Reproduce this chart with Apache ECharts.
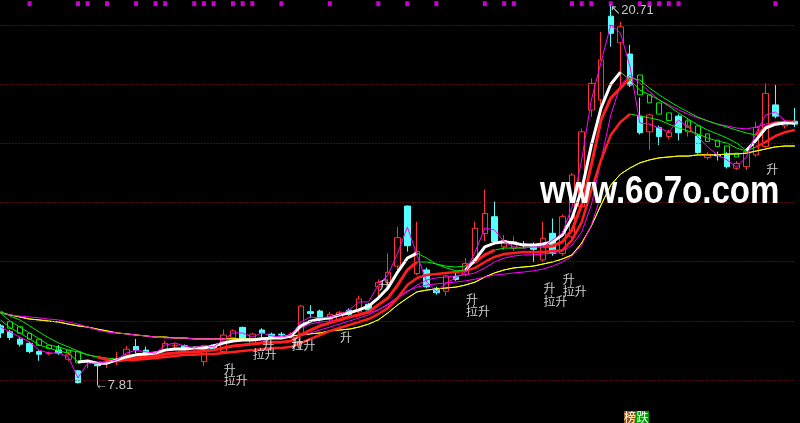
<!DOCTYPE html>
<html><head><meta charset="utf-8">
<script src="https://cdn.jsdelivr.net/npm/echarts@6/dist/echarts.min.js"></script>
<style>html,body{margin:0;padding:0;background:#000;}#c{width:800px;height:423px;}</style>
</head><body><div id="c"></div>
<script>
// ---- data ----
const categories = Array.from({length: 83}, (_, i) => 'D' + (i + 1));
// [open, close, low, high]
const candles = [
[9.83,9.59,9.42,9.89],[9.63,9.44,9.35,9.69],[9.38,9.21,9.13,9.44],[9.24,8.96,8.90,9.30],[8.96,8.87,8.65,9.00],
[8.89,8.91,8.84,8.96],[9.01,8.91,8.85,9.18],[8.70,8.85,8.64,8.96],[8.31,7.91,7.88,8.33],[8.62,8.64,8.40,8.66],
[8.52,8.48,7.81,8.56],[8.56,8.60,8.40,8.70],[8.62,8.70,8.51,8.96],[8.85,9.04,8.79,9.15],[9.13,9.01,8.90,9.39],
[9.01,8.85,8.79,9.13],[8.77,8.92,8.74,8.96],[9.01,9.24,8.96,9.33],[9.15,9.18,9.07,9.27],[9.16,9.09,9.05,9.20],
[8.95,8.97,8.92,9.00],[8.62,9.13,8.48,9.15],[9.18,9.04,9.00,9.20],[8.96,9.52,8.93,9.71],[9.43,9.66,9.40,9.71],
[9.78,9.41,9.38,9.80],[9.21,9.55,9.20,9.60],[9.69,9.58,9.45,9.75],[9.55,9.47,9.40,9.60],[9.55,9.52,9.41,9.62],
[9.45,9.55,9.40,9.62],[9.58,10.50,9.55,10.53],[10.31,10.25,10.10,10.53],[10.33,10.03,9.98,10.38],[10.05,10.22,9.97,10.31],
[10.02,10.29,9.98,10.33],[10.36,10.22,10.15,10.42],[10.30,10.74,10.26,10.85],[10.56,10.37,10.30,10.60],[11.15,11.30,10.75,11.40],
[11.30,11.64,11.20,12.28],[11.85,12.81,11.70,13.18],[13.88,12.54,12.34,13.90],[11.60,12.34,11.55,13.35],[11.72,11.15,11.10,11.80],
[11.10,10.95,10.88,11.15],[11.00,11.52,10.85,11.55],[11.50,11.40,11.35,11.65],[11.58,11.94,11.50,12.12],[12.10,13.13,12.00,13.35],
[12.95,13.63,12.70,14.44],[13.52,12.68,12.60,14.03],[12.50,12.72,12.40,12.90],[12.45,12.68,12.35,12.85],[12.60,12.55,12.45,12.70],
[12.58,12.42,12.00,12.65],[12.06,12.79,12.00,13.35],[12.96,12.28,12.20,13.46],[12.28,13.52,12.20,13.60],[12.84,14.93,12.80,15.00],
[13.86,16.39,13.80,16.50],[17.13,18.03,16.90,18.20],[17.47,18.82,17.30,19.77],[20.30,19.72,19.27,20.71],[19.40,19.94,17.80,20.11],
[19.02,17.97,17.90,19.33],[16.92,16.36,16.30,17.55],[16.39,16.96,15.78,17.00],[16.53,16.23,15.94,16.60],[16.23,16.36,16.15,16.45],
[16.92,16.36,16.10,16.98],[16.39,16.59,16.23,16.85],[16.25,15.69,15.65,16.30],[15.52,15.63,15.45,15.70],[15.62,15.58,15.42,15.72],
[15.63,15.21,15.15,15.70],[15.16,15.32,15.10,15.40],[15.21,15.72,15.10,15.80],[15.61,16.54,15.55,16.73],[15.89,17.69,15.85,18.03],
[17.30,16.92,16.85,17.97],[16.59,16.68,16.50,16.80],[16.75,16.65,16.55,17.20]
];
const fastLine = [9.79,9.62,9.45,9.28,9.01,8.91,8.91,8.78,8.07,8.57, 8.57,8.61,8.68,8.91,9.01,8.95,8.91,9.18,9.25,9.15,
9.08,9.18,9.12,9.35,9.59,9.59,9.45,9.59,9.49,9.45, 9.52,9.96,10.13,10.10,10.13,10.20,10.37,10.64,10.64,11.21,
11.55,12.29,13.17,12.23,11.31,10.98,11.28,11.45,11.65,12.33, 13.14,13.07,12.67,12.50,12.46,12.50,12.50,12.73,12.97,13.85,
15.44,17.47,18.75,20.00,19.73,18.58,16.69,16.65,16.52,16.38, 16.79,16.55,16.22,15.88,15.61,15.44,15.20,15.54,16.35,16.96,
17.06,16.76,16.72];
const lineA = [10.03,9.76,9.59,9.39,9.18,9.08,8.98,8.91,8.61,8.64, 8.57,8.57,8.68,8.78,8.85,8.88,8.91,9.01,9.05,9.05,
9.08,9.08,9.15,9.25,9.32,9.35,9.35,9.39,9.42,9.42, 9.49,9.83,9.99,10.06,10.10,10.20,10.27,10.37,10.50,10.77,
11.11,11.65,12.12,12.29,12.12,11.92,11.79,11.69,11.72,12.06, 12.50,12.63,12.67,12.63,12.56,12.56,12.60,12.67,12.90,13.48,
14.42,15.94,17.20,18.00,18.41,18.14,17.80,17.64,17.47,17.26, 17.03,16.82,16.62,16.45,16.32,16.18,16.01,15.76,16.11,16.52,
16.65,16.69,16.69];
const lineB = [10.27,9.99,9.79,9.59,9.39,9.18,9.12,9.01,8.95,8.85, 8.78,8.68,8.64,8.68,8.74,8.78,8.81,8.88,8.91,8.95,
8.95,8.98,9.01,9.08,9.15,9.18,9.22,9.25,9.28,9.28, 9.32,9.52,9.69,9.83,9.93,10.03,10.13,10.20,10.30,10.54,
10.77,11.21,11.72,11.99,11.99,11.92,11.85,11.82,11.85,11.99, 12.23,12.39,12.46,12.46,12.46,12.50,12.50,12.53,12.67,13.07,
13.92,15.27,16.79,17.53,17.87,18.21,18.14,17.87,17.64,17.43, 17.23,17.06,16.89,16.76,16.65,16.55,16.45,16.35,16.28,16.55,
16.69,16.72,16.72];
const lineC = [10.33,10.16,10.03,9.83,9.62,9.42,9.25,9.12,8.98,8.85, 8.78,8.74,8.71,8.68,8.68,8.71,8.74,8.78,8.81,8.85,
8.85,8.88,8.88,8.91,8.95,8.98,9.01,9.05,9.08,9.08, 9.12,9.25,9.39,9.52,9.66,9.76,9.86,9.96,10.06,10.23,
10.43,10.77,11.21,11.45,11.55,11.58,11.62,11.65,11.69,11.79, 11.99,12.16,12.26,12.29,12.33,12.33,12.33,12.36,12.39,12.73,
13.34,14.42,15.44,16.28,16.72,16.99,16.93,16.86,16.79,16.65, 16.52,16.42,16.32,16.18,16.08,16.01,15.84,15.74,15.88,16.05,
16.25,16.38,16.45];
const slowLine = [10.27,10.20,10.16,10.13,10.10,10.06,10.03,9.96,9.89,9.79, 9.69,9.62,9.59,9.56,9.52,9.49,9.45,9.42,9.42,9.42,
9.39,9.39,9.39,9.39,9.35,9.35,9.35,9.35,9.39,9.42, 9.56,9.76,9.89,9.96,9.99,10.06,10.13,10.20,10.27,10.37,
10.54,10.77,10.98,11.21,11.38,11.45,11.48,11.52,11.55,11.62, 11.79,11.99,12.12,12.19,12.23,12.23,12.26,12.29,12.36,12.56,
13.00,13.92,15.44,16.96,17.97,18.31,18.04,17.74,17.47,17.30, 17.13,16.99,16.86,16.76,16.65,16.59,16.52,16.49,16.55,16.65,
16.72,16.72,16.72];
const slowLine2 = ['-','-','-','-','-','-','-','-','-','-', '-','-','-','-','-','-','-','-','-','-',
'-','-','-','-','-','-','-','-','-','-', 9.42,9.49,9.59,9.69,9.79,9.89,9.99,10.10,10.20,10.37,
10.57,10.81,11.01,11.14,11.21,11.25,11.28,11.31,11.35,11.41, 11.48,11.55,11.58,11.62,11.65,11.69,11.75,11.85,11.99,12.19,
12.56,13.24,14.25,'-','-','-','-','-','-','-', '-','-','-','-','-','-','-','-','-','-',
'-','-','-'];
const yellowLine = [10.27,10.20,10.13,10.06,10.03,9.99,9.96,9.89,9.83,9.79, 9.72,9.66,9.59,9.56,9.52,9.49,9.45,9.45,9.42,9.42,
9.39,9.39,9.39,9.39,9.39,9.39,9.39,9.42,9.42,9.45, 9.49,9.52,9.56,9.59,9.66,9.69,9.72,9.79,9.89,10.03,
10.27,10.54,10.77,10.98,11.04,11.08,11.11,11.14,11.21,11.31, 11.48,11.62,11.72,11.79,11.82,11.85,11.92,11.99,12.09,12.23,
12.63,13.21,13.92,14.59,14.96,15.17,15.34,15.44,15.51,15.54, 15.57,15.57,15.61,15.61,15.61,15.64,15.64,15.67,15.74,15.81,
15.88,15.91,15.91];
// rising stretches of the three lines (index ranges)
const upA = [[8,43],[48,64],[77,82]];
const upB = [[10,43],[48,51],[56,65],[78,82]];
const upC = [[12,65],[78,82]];
// green hollow sticks
const stickIdx = [1,2,3,4,5,6,7,8,66,67,68,69,70,71,72,73,74,75,76];
const stickTop = [9.97,9.80,9.58,9.38,9.18,9.11,9.01,8.96,18.31,17.64,17.37,17.03,16.82,16.76,16.59,16.32,16.11,15.91,15.67];
const stickBot = [9.75,9.58,9.38,9.17,9.07,8.96,8.91,8.58,17.64,17.37,16.99,16.77,16.62,16.55,16.28,16.06,15.89,15.64,15.54];
// top signal squares
const signalIdx = [3,8,9,11,14,16,17,20,21,22,24,25,26,29,34,39,42,45,50,52,53,59,60,61,63,66,67,68,69,70,80];
const signalLevel = 20.72;
// text signals
const labelIdx  = [23,23,27,26,30,30,35,39,48,48,56,56,58,58,79];
const labelVal  = [8.37,8.00,9.18,8.85,9.22,9.18,9.45,11.21,10.74,10.33,11.11,10.64,11.41,10.98,15.13];
const labelText = ['升','拉升','升','拉升','升','拉升','升','升','升','拉升','升','拉升','升','拉升','升'];
const lowIdx = 10, lowVal = 7.81, highIdx = 63, highVal = 20.71;
// price range shown and dotted grid levels
const priceMin = 6.546, priceMax = 20.847;
const gridLevels = [8, 10, 12, 14, 16, 18, 20];

// ---- build ----
const N = candles.length;
function inR(r, i){ return r.some(([a,b]) => i >= a && i <= b); }
function split(vals, ranges){
  const up = [], dn = [];
  for (let i = 0; i < N; i++){
    const u = inR(ranges, i);
    const d = !u || (i > 0 && !inR(ranges, i-1)) || (i < N-1 && !inR(ranges, i+1));
    up.push(u ? vals[i] : '-');
    dn.push(d ? vals[i] : '-');
  }
  return {up, dn};
}
const sA = split(lineA, upA), sB = split(lineB, upB), sC = split(lineC, upC);
function line(name, data, color, width){
  return {name, type:'line', data, showSymbol:false, symbol:'none', connectNulls:false,
    lineStyle:{color, width}, itemStyle:{color}, z:3, silent:true};
}
const yellowSeries = line('yellow', yellowLine, '#ffff00', 1);
yellowSeries.markLine = {silent:true, symbol:'none', animation:false, label:{show:false},
  lineStyle:{color:'#a81414', type:[1,2], width:1},
  data: gridLevels.map(v => ({yAxis:v}))};
yellowSeries.z = 0;
const chart = echarts.init(document.getElementById('c'), null, {renderer:'canvas', width:800, height:423});
chart.setOption({
  backgroundColor:'#000',
  animation:false,
  grid:{left:0.5, width:794.3, top:0, height:423},
  xAxis:{type:'category', data:categories, boundaryGap:false,
    axisLine:{show:false}, axisTick:{show:false}, axisLabel:{show:false}, splitLine:{show:false}},
  yAxis:{type:'value', min:priceMin, max:priceMax, scale:true,
    axisLine:{show:false}, axisTick:{show:false}, axisLabel:{show:false}, splitLine:{show:false}},
  series:[
    yellowSeries,
    {type:'candlestick', name:'sticks', barWidth:5, encode:{x:0, y:[1,2,3,4]},
      data: stickIdx.map((ix,k) => [ix, stickBot[k], stickTop[k], stickBot[k], stickTop[k]]),
      itemStyle:{color:'transparent', color0:'transparent', borderColor:'#00ee00', borderColor0:'#00ee00', borderWidth:1}, z:1, silent:true},
    {type:'candlestick', name:'K', barWidth:6, data:candles,
      itemStyle:{color:'transparent', color0:'#55ffff', borderColor:'#ff3333', borderColor0:'#55ffff', borderWidth:1}, z:2, silent:true,
      markPoint:{symbol:'rect', symbolSize:1, itemStyle:{color:'transparent'}, silent:true,
        label:{show:true, color:'#c8c8c8', fontSize:13, fontFamily:'"Liberation Sans Narrow","Liberation Sans",sans-serif'},
        data:[
          {coord:[lowIdx, lowVal], label:{formatter:'←' + lowVal.toFixed(2), position:'right', distance:-3}},
          {coord:[highIdx, highVal], label:{formatter:'↖' + highVal.toFixed(2), position:'right', distance:-1, offset:[0,6]}}
        ]}},
    Object.assign(line('yellow2', yellowLine, '#ffff00', 1), {z:3}),
    line('slow2', slowLine2, '#ff00ff', 1),
    line('slow', slowLine, '#ff00ff', 1),
    line('Cdn', sC.dn, '#00ee00', 1),
    line('Cup', sC.up, '#ff1e1e', 2.5),
    line('Bdn', sB.dn, '#00ee00', 1),
    line('Bup', sB.up, '#ff1e1e', 3),
    line('Adn', sA.dn, '#00ee00', 1),
    line('Aup', sA.up, '#ffffff', 3),
    line('fast', fastLine, '#ff00ff', 1),
    {type:'scatter', name:'signal', symbol:'rect', symbolSize:[4,5], itemStyle:{color:'#ff00ff'},
      data: signalIdx.map(ix => [ix, signalLevel]), z:5, silent:true},
    {type:'scatter', name:'labels', symbolSize:1, itemStyle:{color:'transparent'}, z:6, silent:true,
      data: labelIdx.map((ix,k) => [ix, labelVal[k], labelText[k]]),
      label:{show:true, position:'right', distance:0, formatter:p => p.value[2], color:'#ffffff',
        fontSize:12, fontFamily:'"Noto Sans CJK SC",sans-serif'}}
  ],
  graphic:[
    {type:'text', x:540, y:193, scaleX:0.87, z:100,
      style:{text:'www.6o7o.com', font:'bold 38px "Liberation Sans",Arial,sans-serif', fill:'#ffffff', align:'left', verticalAlign:'middle'}},
    {type:'rect', shape:{x:624, y:411, width:12, height:12}, style:{fill:'#9a5200'}, z:100},
    {type:'rect', shape:{x:636, y:411, width:13, height:12}, style:{fill:'#009a00'}, z:100},
    {type:'text', x:630, y:417.5, z:101, style:{text:'榜', font:'12px "Noto Sans CJK SC"', fill:'#fff', align:'center', verticalAlign:'middle'}},
    {type:'text', x:642.5, y:417.5, z:101, style:{text:'跌', font:'12px "Noto Sans CJK SC"', fill:'#fff', align:'center', verticalAlign:'middle'}}
  ]
});
</script></body></html>
